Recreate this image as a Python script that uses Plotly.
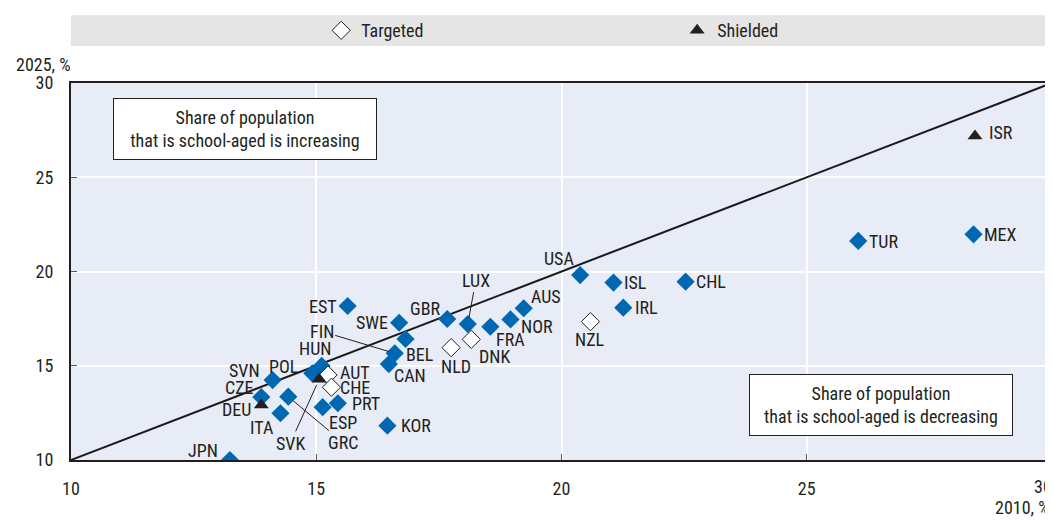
import plotly.graph_objects as go

# Share of school-aged population, 2010 (x) vs 2025 (y), %
countries = ["JPN", "EST", "HUN", "POL", "SVN", "CZE", "ITA", "GRC", "ESP", "PRT",
             "KOR", "SWE", "BEL", "FIN", "CAN", "GBR", "LUX", "FRA", "NOR", "AUS",
             "USA", "ISL", "IRL", "CHL", "TUR", "MEX"]
x_2010 = [13.24, 15.64, 15.11, 14.92, 14.11, 13.88, 14.27, 14.43, 15.13, 15.44,
          16.45, 16.69, 16.82, 16.60, 16.48, 17.67, 18.09, 18.55, 18.96, 19.23,
          20.38, 21.06, 21.26, 22.53, 26.05, 28.40]
y_2025 = [10.00, 18.17, 14.99, 14.60, 14.24, 13.34, 12.48, 13.36, 12.80, 13.01,
          11.82, 17.28, 16.42, 15.66, 15.09, 17.48, 17.21, 17.07, 17.46, 18.05,
          19.81, 19.41, 18.08, 19.46, 21.62, 21.97]

targeted = ["AUT", "CHE", "NLD", "DNK", "NZL"]
targeted_x = [15.24, 15.31, 17.75, 18.16, 20.59]
targeted_y = [14.51, 13.86, 15.96, 16.40, 17.34]

shielded = ["DEU", "SVK", "ISR"]
shielded_x = [13.88, 15.06, 28.43]
shielded_y = [12.92, 14.28, 27.19]

parity = [10, 30]
ticks = [10, 15, 20, 25, 30]

# label offsets in pixels (dx, dy) from the marker
LABEL_OFFSET = {
    "JPN": (-27, -10), "EST": (-25, 0), "HUN": (-7, -17), "POL": (-28, -7),
    "SVN": (-28, -10), "CZE": (-22, -10), "DEU": (-25, 5), "ITA": (-18, 14),
    "ESP": (20, 15), "PRT": (28, 0), "KOR": (29, 0), "SWE": (-27, 0),
    "BEL": (14, 16), "CAN": (21, 11), "GBR": (-22, -11), "FRA": (20, 13),
    "NOR": (27, 7), "AUS": (22, -12), "USA": (-21, -17), "ISL": (22, 0),
    "IRL": (23, 0), "CHL": (25, 0), "TUR": (25, 1), "MEX": (27, 0),
    "AUT": (27, -2), "CHE": (24, 0), "NLD": (5, 19), "DNK": (23, 17),
    "NZL": (0, 18), "ISR": (26, -3),
}
# labels attached with a leader line
LEADER = {"FIN": (-73, -22), "SVK": (-29, 64), "GRC": (55, 46), "LUX": (8, -44)}

FONT = "Roboto Condensed, Liberation Sans Narrow, sans-serif"
BLUE = "#0068b3"
TXT = "#231f20"
FS = 18

fig = go.Figure()

fig.add_trace(go.Scatter(
    x=parity, y=parity, mode="lines",
    line=dict(color="#1a1a1a", width=2), showlegend=False, hoverinfo="skip",
))
fig.add_trace(go.Scatter(
    x=x_2010, y=y_2025, mode="markers", text=countries,
    marker=dict(symbol="diamond", size=14, color=BLUE),
    showlegend=False,
))
fig.add_trace(go.Scatter(
    x=targeted_x, y=targeted_y, mode="markers", text=targeted,
    marker=dict(symbol="diamond", size=14, color="white",
                line=dict(color="#231f20", width=1)),
    name="Targeted",
))
fig.add_trace(go.Scatter(
    x=shielded_x, y=shielded_y, mode="markers", text=shielded,
    marker=dict(symbol="triangle-up", size=13, color="#231f20"),
    name="Shielded",
))

annotations = []
all_pts = list(zip(countries, x_2010, y_2025)) + list(zip(targeted, targeted_x, targeted_y)) \
    + list(zip(shielded, shielded_x, shielded_y))
for name, xv, yv in all_pts:
    if name in LABEL_OFFSET:
        dx, dy = LABEL_OFFSET[name]
        annotations.append(dict(
            x=xv, y=yv, text=name, showarrow=True, arrowcolor="rgba(0,0,0,0)",
            ax=dx, ay=dy, font=dict(family=FONT, size=FS, color=TXT),
        ))
    elif name in LEADER:
        dx, dy = LEADER[name]
        annotations.append(dict(
            x=xv, y=yv, text=name, showarrow=True, arrowhead=0, arrowwidth=1,
            arrowcolor="#231f20", standoff=6, ax=dx, ay=dy,
            font=dict(family=FONT, size=FS, color=TXT),
        ))

# corner boxes
annotations.append(dict(
    xref="paper", yref="paper", x=0.177, y=0.878, xanchor="center", yanchor="middle",
    showarrow=False, text="Share of population<br>that is school-aged is increasing",
    font=dict(family=FONT, size=FS, color=TXT), align="center",
    bgcolor="white", bordercolor="#231f20", borderwidth=1, borderpad=8, width=246,
))
annotations.append(dict(
    xref="paper", yref="paper", x=0.826, y=0.147, xanchor="center", yanchor="middle",
    showarrow=False, text="Share of population<br>that is school-aged is decreasing",
    font=dict(family=FONT, size=FS, color=TXT), align="center",
    bgcolor="white", bordercolor="#231f20", borderwidth=1, borderpad=8, width=246,
))
# axis titles
annotations.append(dict(
    xref="paper", yref="paper", x=0.002, y=1.048, xanchor="right", yanchor="middle",
    text="2025, %", showarrow=False, font=dict(family=FONT, size=FS, color=TXT),
))
annotations.append(dict(
    xref="paper", yref="paper", x=1.0, y=-0.125, xanchor="right", yanchor="middle",
    text="2010, %", showarrow=False, font=dict(family=FONT, size=FS, color=TXT),
))
# last x tick label sits inside the right edge, as in the source
annotations.append(dict(
    xref="paper", yref="paper", x=0.991, y=-0.0716, xanchor="center", yanchor="middle",
    text=str(ticks[-1]), showarrow=False, font=dict(family=FONT, size=FS, color=TXT),
))

shapes = [
    dict(type="rect", xref="paper", yref="paper", x0=0, x1=1, y0=1.098, y1=1.180,
         fillcolor="#e5e5e5", line=dict(width=0), layer="below"),
    dict(type="line", xref="paper", yref="paper", x0=1, x1=1, y0=0, y1=1,
         line=dict(color="#b0b4bc", width=1)),
]

fig.update_xaxes(
    range=[10, 30], tickvals=ticks,
    ticktext=[str(t) for t in ticks[:-1]] + [""],
    automargin=False,
    showgrid=True, gridcolor="white", gridwidth=2, zeroline=False,
    showline=True, linecolor="#231f20", linewidth=2, mirror=True,
    ticks="inside", ticklen=6, tickcolor="#555", ticklabelstandoff=11,
    tickfont=dict(family=FONT, size=FS, color=TXT),
)
fig.update_yaxes(
    range=[10, 30], tickvals=ticks, automargin=False,
    showgrid=True, gridcolor="white", gridwidth=2, zeroline=False,
    showline=True, linecolor="#231f20", linewidth=2,
    ticks="inside", ticklen=6, tickcolor="#555", ticklabelstandoff=12,
    tickfont=dict(family=FONT, size=FS, color=TXT),
)

# the page body adds an 8 px offset, so the figure is 8 px smaller than the window
fig.update_layout(
    width=1045, height=513,
    margin=dict(l=63, r=1, t=75, b=61, autoexpand=False),
    plot_bgcolor="#e8ecf6", paper_bgcolor="white",
    font=dict(family=FONT, size=FS, color=TXT),
    showlegend=True,
    legend=dict(orientation="h", x=0.255, xanchor="left", y=1.139, yanchor="middle",
                bgcolor="rgba(0,0,0,0)", entrywidth=311, entrywidthmode="pixels",
                font=dict(family=FONT, size=FS, color=TXT)),
    annotations=annotations, shapes=shapes,
)

fig.write_html("out.html")
